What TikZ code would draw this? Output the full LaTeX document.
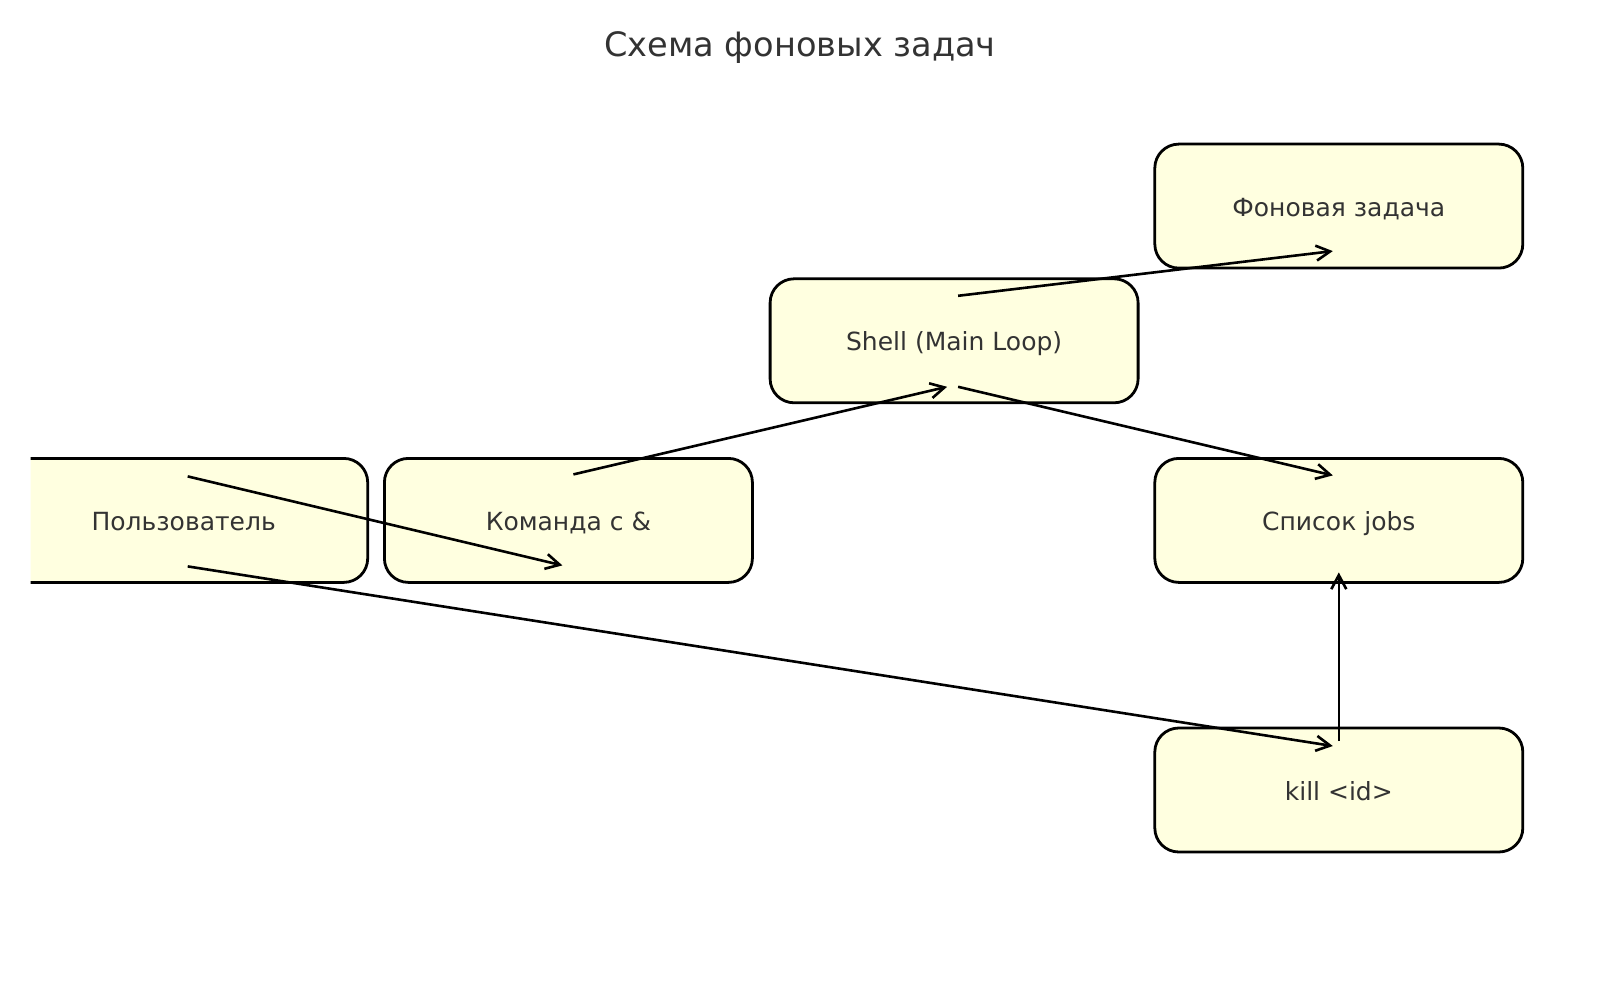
\documentclass[tikz,border=0pt]{standalone}
\usepackage{fontspec}
\setmainfont{DejaVu Sans}
\usetikzlibrary{arrows.meta,calc}
\definecolor{boxfill}{HTML}{FFFFE0}
\definecolor{txt}{HTML}{333333}
\tikzset{
  box/.style={draw=black, fill=boxfill, line width=1.4pt, rounded corners=12pt,
    minimum width=184pt, minimum height=62pt, inner sep=0pt,
    text=txt, font=\fontsize{12.5}{14}\selectfont},
  flow/.style={draw=black, line width=1.3pt, -{Straight Barb[length=7pt,width=7.5pt,line width=1.3pt]}},
  lbl/.style={text=txt, font=\fontsize{12.5}{14}\selectfont},
}
\begin{document}
\begin{tikzpicture}[x=0.5pt,y=-0.5pt]
\useasboundingbox (0,0) rectangle (1600,1000);
\node[text=txt, font=\fontsize{16.8}{20}\selectfont] (title) at (800,48) {Схема фоновых задач};
\begin{scope}
\clip (30.6,0) rectangle (1600,1000);
\node[box] (bg)    at (1338.8,206.1) {};
\node[box] (shell) at (954.1,340.8)  {};
\node[box] (user)  at (183.7,520.4)  {};
\node[box] (cmd)   at (568.4,520.4)  {};
\node[box] (jobs)  at (1338.8,520.4) {};
\node[box] (kill)  at (1338.8,790.0) {};
\node[lbl] (bgt)    at ($(bg)+(0,3)$)    {Фоновая задача};
\node[lbl] (shellt) at ($(shell)+(0,3)$) {Shell (Main Loop)};
\node[lbl] (usert)  at ($(user)+(0,1)$)  {Пользователь};
\node[lbl] (cmdt)   at ($(cmd)+(0,3)$)   {Команда с \&};
\node[lbl] (jobst)  at ($(jobs)+(0,3)$)  {Список jobs};
\node[lbl] (killt)  at ($(kill)+(0,1)$)  {kill <id>};
\draw[flow] ($(user)+(4,-44)$) -- ($(cmd)+(-6,45)$);
\draw[flow] ($(user)+(4,46)$) -- ($(kill)+(-6,-44)$);
\draw[flow] ($(cmd)+(5,-46)$) -- ($(shell)+(-7,46)$);
\draw[flow] ($(shell)+(4,-45)$) -- ($(bg)+(-6,45)$);
\draw[flow] ($(shell)+(4,46)$) -- ($(jobs)+(-6,-45)$);
\draw[flow] ($(kill)+(0,-49)$) -- ($(jobs)+(0,52)$);
\end{scope}
\end{tikzpicture}
\end{document}
